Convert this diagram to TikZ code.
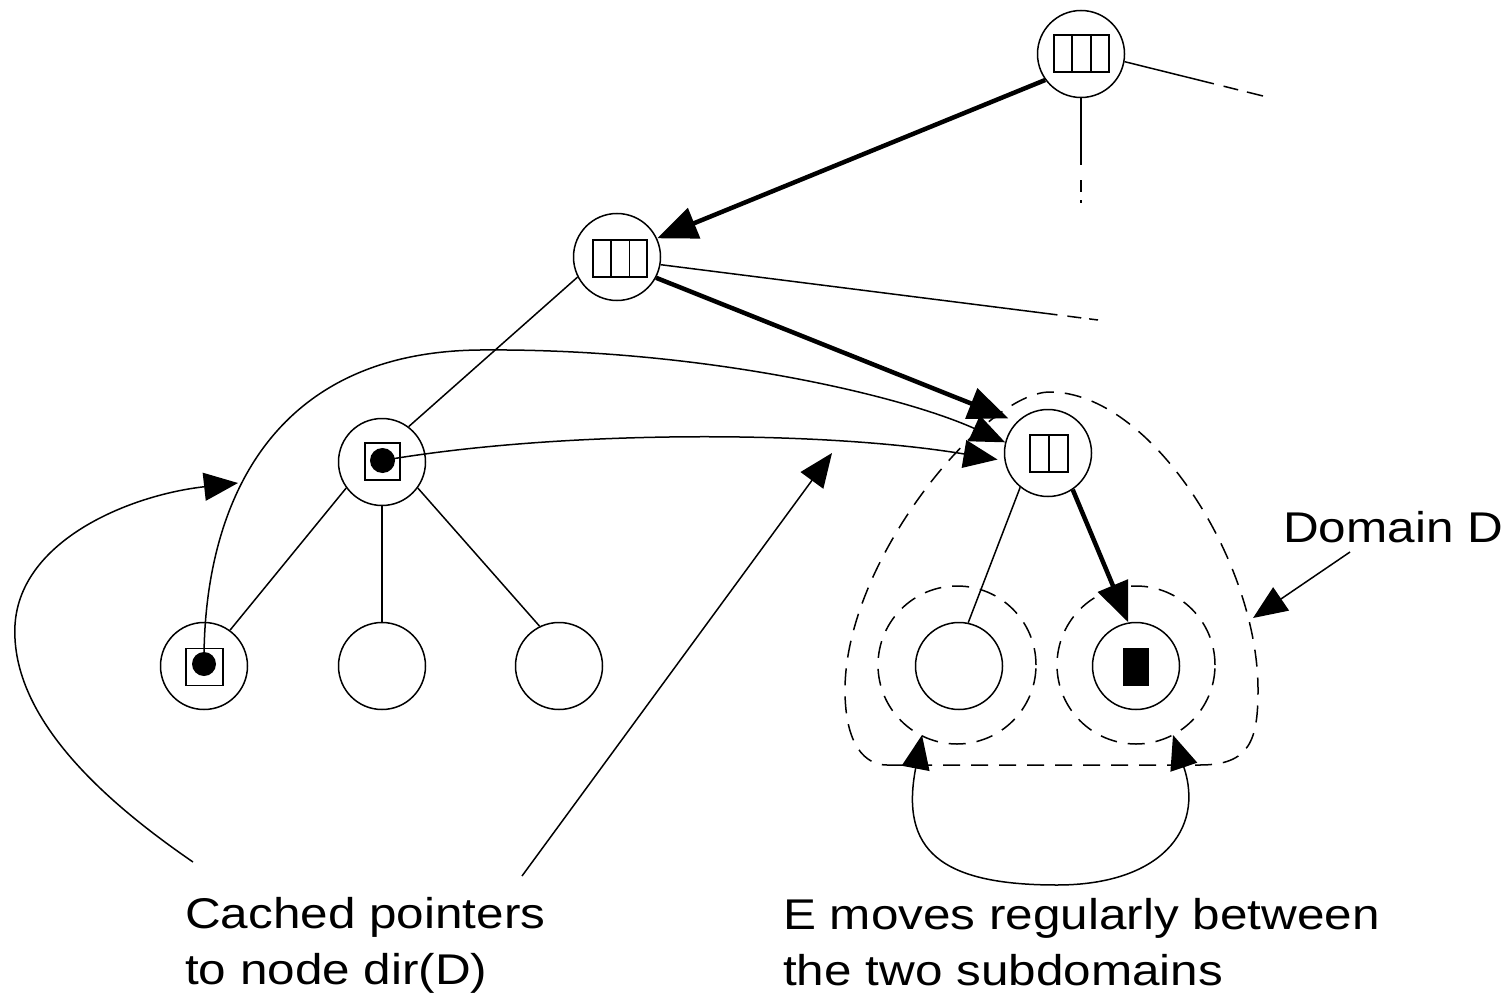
\documentclass[tikz,border=0pt]{standalone}
\usepackage{fontspec}
\setmainfont{Liberation Sans}[FakeStretch=1.15]
\usetikzlibrary{arrows.meta,calc}
\begin{document}
\begin{tikzpicture}[x=1pt,y=-1pt,
  tnode/.style={circle,draw,line width=1.5pt,minimum size=87pt,inner sep=0pt},
  cellbox/.style={draw,line width=1.5pt,minimum height=37pt,inner sep=0pt},
  blackdot/.style={circle,fill,minimum size=24pt,inner sep=0pt},
  subdom/.style={circle,draw,line width=1.5pt,dash pattern=on 17pt off 11pt,minimum size=158pt,inner sep=0pt},
  lnthin/.style={line width=1.5pt},
  lnthick/.style={line width=4.5pt},
  dashline/.style={line width=1.5pt,dash pattern=on 17pt off 11pt},
  arrthin/.style={-{Triangle[length=34pt,width=28pt]}},
  arrthick/.style={-{Triangle[length=40pt,width=32pt]}},
  arrboth/.style={{Triangle[length=34pt,width=28pt]}-{Triangle[length=34pt,width=28pt]}},
  lbl/.style={font=\fontsize{43}{56}\selectfont,align=left,anchor=base west,inner sep=0pt}]

\fill[white] (0,0) rectangle (1506,1000);
\useasboundingbox (0,0) rectangle (1506,1000);

% domain D outline
\draw[dashline] (887,765) -- (1200,765)
  .. controls (1250,765) and (1258,740) .. (1258,690)
  .. controls (1258,560) and (1150,392) .. (1050,392)
  .. controls (985,392) and (845,560) .. (845,690)
  .. controls (845,745) and (865,765) .. (887,765) -- cycle;

\node[subdom] (sub1) at (957,665) {};
\node[subdom] (sub2) at (1136,665) {};

% tree nodes
\node[tnode] (top) at (1081,54) {};
\node[tnode] (mid) at (617,257) {};
\node[tnode] (dn) at (382,462) {};
\node[tnode] (l1) at (204,666) {};
\node[tnode] (l2) at (382,666) {};
\node[tnode] (l3) at (559,666) {};
\node[tnode] (D) at (1048,453) {};
\node[tnode] (e1) at (959,666) {};
\node[tnode] (e2) at (1136,666) {};

% boxes inside nodes
\node[cellbox,minimum width=55pt] (topbox) at (1081.5,53.5) {};
\draw[lnthin] ($(topbox.north west)!1/3!(topbox.north east)$) -- ($(topbox.south west)!1/3!(topbox.south east)$);
\draw[lnthin] ($(topbox.north west)!2/3!(topbox.north east)$) -- ($(topbox.south west)!2/3!(topbox.south east)$);
\node[cellbox,minimum width=54pt] (midbox) at (620,258.5) {};
\draw[lnthin] ($(midbox.north west)!1/3!(midbox.north east)$) -- ($(midbox.south west)!1/3!(midbox.south east)$);
\draw[lnthin] ($(midbox.north west)!2/3!(midbox.north east)$) -- ($(midbox.south west)!2/3!(midbox.south east)$);
\node[cellbox,minimum width=38pt] (Dbox) at (1049,453.5) {};
\draw[lnthin] (Dbox.north) -- (Dbox.south);
\node[cellbox,minimum width=35pt] (dnbox) at (382.5,461.5) {};
\node[blackdot,minimum size=25pt] (dotB) at (382.5,460.5) {};
\node[cellbox,minimum width=37pt] (l1box) at (204.5,667) {};
\node[blackdot] (dotA) at (204,664) {};
\node[fill,minimum width=26pt,minimum height=38pt,inner sep=0pt] (E) at (1136,667) {};

% tree edges
\draw[lnthin] (mid.207) -- (dn.53);
\draw[lnthin] (dn.216) -- (l1.54);
\draw[lnthin] (dn.south) -- (l2.north);
\draw[lnthin] (dn.-36) -- (l3.116);
\draw[lnthin] (D.-129) -- (e1.78);
\draw[lnthick,arrthick] (D.-56) -- (e2.100);
\draw[lnthick,arrthick] (top.216) -- (mid.25);
\draw[lnthick,arrthick,shorten >=9pt] (mid.-28) -- (D.135);

% fading edges
\coordinate (topR) at (1263,96);
\coordinate (topS) at (1081,203);
\coordinate (midR) at (1098,320);
\draw[lnthin,dash pattern=on 92pt off 10pt on 15pt off 9pt on 20pt] (top.-10) -- (topR);
\draw[lnthin,dash pattern=on 67pt off 15pt on 12pt off 8pt on 10pt] (top.south) -- (topS);
\draw[lnthin,dash pattern=on 400pt off 10pt on 14pt off 8pt on 20pt] (mid.-10) -- (midR);

% cached pointers
\draw[lnthin,arrthin] (dotA.center) .. controls (203,520) and (260,352) .. (480,350)
  .. controls (700,348) and (900,395) .. (D.166);
\draw[lnthin,arrthin,shorten >=7pt] (dotB.center) .. controls (560,430) and (820,430) .. (D.190);

% annotation arrows
\coordinate (cA) at (193,862);
\coordinate (cAt) at (238,483);
\draw[lnthin,arrthin] (cA) .. controls (110,805) and (10,720) .. (15,625)
  .. controls (20,540) and (130,495) .. (cAt);
\coordinate (cB) at (522,876);
\coordinate (cBt) at (832,453);
\draw[lnthin,arrthin] (cB) -- (cBt);
\coordinate (dA) at (1350,552);
\coordinate (dAt) at (1253,618);
\draw[lnthin,arrthin] (dA) -- (dAt);

% E moves loop
\coordinate (mL) at (922,735);
\coordinate (mR) at (1173,735);
\coordinate (mB) at (1057,885);
\draw[lnthin,arrboth] (mL) .. controls (900,850) and (940,885) .. (mB)
  .. controls (1160,885) and (1205,830) .. (mR);

% labels (base anchor = baseline of the last line)
\node[lbl] (cap1) at (185,984) {Cached pointers\\to node dir(D)};
\node[lbl] (cap2) at (783,985) {E moves regularly between\\the two subdomains};
\node[lbl] (domlbl) at (1283,542) {Domain D};
\end{tikzpicture}
\end{document}
